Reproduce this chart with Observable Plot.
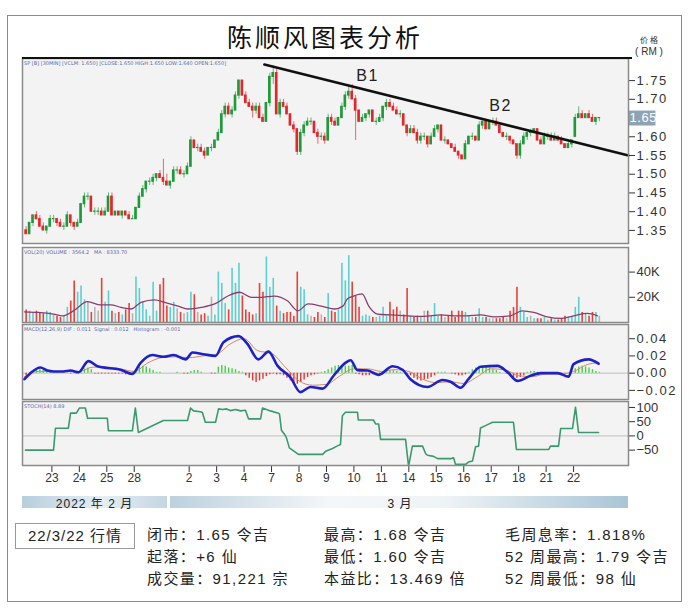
<!DOCTYPE html>
<html><head><meta charset="utf-8">
<script src="https://cdn.jsdelivr.net/npm/d3@7"></script>
<script src="https://cdn.jsdelivr.net/npm/@observablehq/plot@0.6"></script>
<style>
body{margin:0;width:690px;height:611px;position:relative;background:#fff;overflow:hidden;font-family:"Liberation Sans","Noto Sans CJK SC",sans-serif;color:#222}
.abs{position:absolute}
.tiny{position:absolute;font-size:5px;line-height:6px;color:#5a6aa8;white-space:nowrap;font-family:"DejaVu Sans",sans-serif}
.info{position:absolute;font-size:15px;letter-spacing:1.4px;white-space:nowrap;line-height:22px;font-family:"Liberation Sans","Noto Sans CJK SC",sans-serif}
</style></head><body>
<div class="abs" style="left:7px;top:15px;width:673px;height:585px;border:1px solid #8a8a8a"></div>
<div class="abs" style="left:125px;width:400px;top:18px;line-height:36px;text-align:center;font-family:'Noto Sans CJK SC';font-size:25px;letter-spacing:3px;color:#111">陈顺风图表分析</div>
<div class="abs" style="left:634px;top:35px;width:30px;line-height:10px;text-align:center;font-family:'Noto Sans CJK SC';font-size:8px;color:#333">价 格</div>
<div class="abs" style="left:632px;top:46px;width:34px;line-height:11px;text-align:center;font-size:10px;color:#333">( RM )</div>
<div id="price" class="abs" style="left:0;top:58px"></div>
<div id="volume" class="abs" style="left:0;top:247px"></div>
<div id="macd" class="abs" style="left:0;top:324px"></div>
<div id="osc" class="abs" style="left:0;top:401px"></div>
<div class="abs" style="left:22px;top:57px;width:610px;height:2px;background:#111"></div>
<div class="tiny" style="left:24px;top:60px">SP [B] [30MIN] [VCLM: 1.650] [CLOSE:1.650 HIGH:1.650 LOW:1.640 OPEN:1.650]</div>
<div class="tiny" style="left:24px;top:249px">VOL(20) VOLUME : 3564.2 &nbsp; MA : 8333.70</div>
<div class="tiny" style="left:24px;top:326px">MACD(12,26,9) DIF : 0.011 &nbsp;Signal : 0.012 &nbsp; Histogram : -0.001</div>
<div class="tiny" style="left:24px;top:403px">STOCH(14) 8.89</div>
<div class="abs" style="left:22px;top:496px;width:145px;height:12px;background:linear-gradient(90deg,#b7cedd,#e6eef3 55%,#c3d6e2)"></div>
<div class="abs" style="left:170px;top:496px;width:458px;height:12px;background:linear-gradient(90deg,#bcd1de,#f4f7f9 35%,#eef3f6 60%,#a9c5d6)"></div>
<div class="abs" style="left:22px;top:494px;width:145px;text-align:center;font-size:12px;font-family:'Liberation Sans','Noto Sans CJK SC';letter-spacing:1px">2022 年 2 月</div>
<div class="abs" style="left:360px;top:494px;width:80px;text-align:center;font-size:12px;font-family:'Liberation Sans','Noto Sans CJK SC';letter-spacing:1px">3 月</div>
<div class="abs" style="left:15px;top:523px;width:118px;height:24px;border:1px solid #999;text-align:center;font-size:15px;line-height:24px;letter-spacing:1px">22/3/22 行情</div>
<div class="info" style="left:147px;top:524px">闭市：1.65 令吉<br>起落：+6 仙<br>成交量：91,221 宗</div>
<div class="info" style="left:324px;top:524px">最高：1.68 令吉<br>最低：1.60 令吉<br>本益比：13.469 倍</div>
<div class="info" style="left:505px;top:524px">毛周息率：1.818%<br>52 周最高：1.79 令吉<br>52 周最低：98 仙</div>
<script>
// ---- data (prices in sen, 8 bars per trading day, 21 trading days) ----
const tickDays = [1,2,3,4,6,7,8,9,10,11,12,13,14,15,16,17,18,19,20];
const tickLabels = ["23","24","25","28","2","3","4","7","8","9","10","11","14","15","16","17","18","21","22"];
const open = [
135,134,137,139,138,136,135,136, 138,138,137,136,136,139,137,136, 137,142,144,144,140,140,140,139,
140,144,139,140,139,140,139,138, 138,141,144,146,148,148,149,150, 149,148,147,148,151,151,150,150,
152,159,157,157,156,155,157,157, 159,161,166,168,166,167,171,175, 171,169,168,167,168,165,164,169,
176,177,166,169,168,166,163,162, 156,161,163,164,164,161,160,160, 159,165,164,163,165,168,171,172,
170,167,164,165,166,167,164,164, 165,168,169,168,167,166,166,163, 161,162,161,159,160,160,158,160,
162,163,159,159,158,157,156,155, 154,158,160,160,159,163,164,162, 164,164,163,161,160,160,159,158,
155,158,160,161,161,162,159,158, 160,160,159,160,159,158,157,158, 160,165,166,165,166,165,164,165];
const high = [
136,137,139,140,139,137,136,139, 139,138,138,137,140,139,137,138, 142,145,145,144,141,141,141,141,
145,145,140,140,140,140,140,139, 141,145,147,148,149,150,150,151, 154,150,148,152,152,152,151,153,
160,159,158,158,157,157,158,159, 162,167,169,169,168,172,175,175, 172,170,169,169,169,166,169,177,
179,178,170,170,169,166,164,162, 162,164,165,165,164,162,161,161, 166,166,165,165,169,172,174,174,
171,167,166,166,167,167,165,166, 168,170,170,169,168,167,166,163, 163,163,162,161,161,160,161,163,
163,163,160,159,158,158,156,155, 159,160,161,160,164,164,164,164, 165,165,163,161,161,160,159,158,
159,161,161,162,162,162,160,161, 161,161,161,160,160,158,159,159, 166,168,167,166,167,166,165,165];
const low = [
134,134,136,138,136,135,134,136, 137,136,136,135,136,136,135,136, 137,141,143,140,139,139,139,139,
140,139,139,139,138,139,138,138, 138,141,144,145,147,147,148,149, 147,147,146,148,150,150,149,150,
152,157,156,156,154,155,156,157, 159,161,165,166,165,167,170,171, 169,168,165,166,165,164,164,168,
174,166,165,168,166,163,161,155, 155,160,163,163,161,158,159,158, 159,163,163,163,165,167,170,170,
159,164,164,164,165,164,163,164, 164,167,168,167,166,165,163,160, 161,161,158,158,159,157,158,160,
161,159,158,158,157,156,154,154, 154,158,159,159,159,162,162,162, 163,163,161,160,159,158,158,154,
154,158,159,160,161,159,158,158, 159,159,159,159,158,157,157,157, 160,165,165,165,165,164,163,164];
const close = [
134,137,139,138,136,135,136,138, 138,137,136,136,139,137,136,137, 142,144,144,140,140,140,139,140,
144,139,140,139,140,139,138,138, 141,144,146,148,148,149,150,149, 148,147,148,151,151,150,150,152,
159,157,157,156,155,157,157,159, 161,166,168,166,167,171,175,171, 169,168,167,168,165,164,169,176,
177,166,169,168,166,163,162,156, 161,163,164,164,161,160,160,159, 165,164,163,165,168,171,172,170,
167,164,165,166,167,164,164,165, 168,169,168,167,166,166,163,161, 162,161,159,160,160,158,160,162,
163,159,159,158,157,156,155,154, 158,160,160,159,163,164,162,164, 164,163,161,160,160,159,158,155,
158,160,161,161,162,159,158,160, 160,159,160,159,158,157,158,159, 165,166,165,166,165,164,165,165];
const volumeK = [
10,9,8,9,8,7,9,8, 6,5,4,5,12,17,33,24, 29,18,16,8,12,9,35,16,
25,9,7,8,6,10,15,7, 36,27,16,10,5,32,9,30, 35,13,12,16,11,8,7,8,
24,22,8,6,7,5,20,6, 40,31,15,10,43,31,47,21, 10,8,6,7,31,24,52,28,
35,13,9,7,8,8,5,40, 28,26,6,5,4,8,6,4, 23,9,8,10,47,33,53,32,
21,12,5,6,5,4,4,5, 12,5,16,10,12,9,6,27, 5,4,5,4,9,9,5,15,
5,6,4,5,9,4,9,9, 8,5,4,4,11,4,4,3, 3,3,3,4,3,9,12,28,
12,8,4,5,3,3,3,4, 2,3,2,2,3,5,4,5, 12,20,8,7,5,8,8,5];
const histMilli = [
-3,-2,2,4,4,3,2,1, 1,1,0,1,0,-1,0,1, 3,5,6,4,-1,-1,-1,-1,
-1,-1,-1,-1,-1,-2,-2,-2, 4,7,8,7,5,3,1,1, 0,0,0,0,1,0,-1,-1,
2,3,3,1,0,0,-1,-1, 7,9,8,6,5,4,2,1, -3,-6,-9,-11,-9,-7,-4,-2,
-1,-2,-2,-3,-6,-9,-12,-13, -11,-8,-5,-3,-2,-1,1,2, 4,6,8,9,9,8,8,9,
-1,-2,-3,-3,-3,-2,-2,-1, 1,2,3,3,2,1,0,-1, -3,-6,-8,-9,-8,-7,-5,-3,
1,1,1,0,-1,-2,-3,-3, -2,1,4,6,8,8,7,6, 4,3,1,0,-1,-3,-5,-6,
-5,-3,1,2,2,1,0,0, 0,0,0,-1,-1,-1,0,0, 5,7,8,7,6,4,2,1];
// volume moving average (K) read along the time axis (trading-day units)
const maPos = [0,0.5,1.06,1.4,1.77,2.3,2.78,3.15,3.52,3.88,4.25,4.74,5.1,5.6,5.95,6.44,6.93,7.41,7.84,8.26,8.62,9.1,9.59,9.96,10.33,10.81,11.3,11.6,11.76,11.99,12.3,12.54,12.85,13.34,13.95,14.55,15.16,15.65,16.1,16.62,17.1,17.7,18.13,18.55,19.04,19.53,20.01,20.5,20.87];
const maVal = [8.5,8,6.7,5.3,9,16.5,14,14,12,10.7,16,18,16,13,10.7,12,14.7,21,24,20,20,21,17,9.3,14.7,13,10.7,13,18.7,21,22.7,13,6.7,6,5.3,4.8,6,5.3,5.3,6,4.5,5.3,9.3,8,4.5,3.2,5.3,7.2,5.3];
// MACD (DIF) line
const macdPos = [0,0.22,0.58,0.84,1.06,1.42,1.68,1.97,2.33,2.66,3.02,3.5,3.93,4.23,4.66,5.06,5.43,5.87,6.12,6.52,6.96,7.25,7.8,8.12,8.52,8.89,9.22,9.69,10.05,10.42,10.86,11.26,11.69,11.88,12.13,12.5,12.9,13.41,13.77,14.06,14.68,15.23,15.52,15.88,16.17,16.61,17.23,17.6,17.96,18.43,18.8,19.42,19.82,20.0,20.55,20.91];
const macdVal = [-0.007,0,0.0065,0.003,0.002,0.002,0.003,0.001,0.014,0.008,0.006,0.004,-0.001,0.012,0.021,0.019,0.021,0.016,0.024,0.022,0.020,0.036,0.043,0.034,0.016,0.025,0.0085,-0.005,-0.022,-0.016,-0.018,-0.003,0.012,0.015,0.0035,0.003,-0.002,0.008,0.004,-0.007,-0.016,-0.008,-0.010,-0.017,-0.007,0.0075,0.0085,0.001,-0.009,-0.003,0,0,-0.004,0.0105,0.016,0.011];
// signal line
const sigPos = [0,0.5,1,1.5,2,2.5,3,3.5,4,4.5,5,5.5,6,6.5,7,7.5,8,8.5,9,9.5,10,10.5,11,11.5,12,12.5,13,13.5,14,14.5,15,15.5,16,16.5,17,17.5,18,18.5,19,19.5,20,20.5,20.9];
const sigVal = [-0.004,0.002,0.002,0.002,0.002,0.007,0.007,0.005,0.002,0.012,0.018,0.019,0.018,0.020,0.022,0.034,0.040,0.026,0.023,0.007,-0.009,-0.014,-0.013,-0.003,0.005,0.005,0.002,0.004,0.002,-0.007,-0.011,-0.010,-0.012,-0.004,0.005,0.004,-0.003,-0.004,-0.001,-0.001,0.002,0.010,0.012];
// lower oscillator
const oscPos = [0.04,1.06,1.13,1.6,1.68,1.89,2.0,2.22,2.3,3.02,3.06,3.93,4.04,4.15,5.06,5.94,6.05,6.16,6.41,6.48,6.59,6.96,7.07,7.21,7.36,7.5,7.69,7.87,8.05,8.16,8.6,8.67,8.96,9.25,9.29,9.36,9.47,9.54,9.65,9.98,10.86,10.97,11.22,11.4,11.51,11.58,11.69,12.13,12.16,12.71,12.79,12.9,12.97,13.88,13.99,14.13,14.5,14.61,14.68,14.9,15.05,15.52,15.63,15.7,16.07,16.17,16.32,16.43,16.54,16.61,16.83,17.05,17.81,17.92,19.09,19.16,19.45,19.53,19.96,20.07,20.18,20.91];
const oscVal = [-50,-50,27,27,80,80,98,98,62,62,18,18,98,12,54,54,98,88,85,82,48,48,95,93,95,89,93,88,90,60,60,98,88,80,77,20,6,-6,-42,-65,-65,-54,-44,-35,-30,71,83,83,56,56,42,42,-12,-12,-107,-36,-36,-62,-68,-72,-80,-80,-77,-100,-100,-92,-88,-38,-36,28,38,48,48,-48,-48,-36,-36,26,26,101,12,12];
// resistance line and labels
const trendPos = [8.74, 22];
const trendVal = [1.793, 1.55];
const notes = ["B1","B2"];
const notePos = [12.5, 17.34];
const noteVal = [1.763, 1.683];
const priceTicks = [1.35,1.40,1.45,1.50,1.55,1.60,1.70,1.75];

// ---- build ----
const bars = close.map((c, i) => ({
  p: Math.floor(i / 8) + ((i % 8) + 0.5) / 8,
  o: open[i] / 100, h: high[i] / 100, l: low[i] / 100, c: c / 100,
  v: volumeK[i], hist: histMilli[i] / 1000,
  dir: c > open[i] ? "up" : c < open[i] ? "down" : "flat"
}));
const zip = (a, b) => a.map((x, i) => ({x, y: b[i]}));
const W = 690, ML = 22, MR = 62;
const xopt = {domain: [-0.07, 22], axis: null};
const GREEN = "#1f9a3a", RED = "#e3262b";
const candleColor = d => d.dir === "down" ? RED : GREEN;
const baseStyle = {fontFamily: "Liberation Sans, Arial, sans-serif", fontSize: "13px", color: "#333", overflow: "visible", background: "transparent"};
const bg = Plot.frame({fill: "#f3f3f3", stroke: null});
const border = Plot.frame({stroke: "#8a8a8a", strokeWidth: 1.5});
const last = bars[bars.length - 1];

const price = Plot.plot({
  width: W, height: 185, marginLeft: ML, marginRight: MR, marginTop: 0, marginBottom: 0,
  style: {...baseStyle, letterSpacing: "1.5px"},
  x: xopt,
  y: {domain: [1.315, 1.809], axis: "right", ticks: priceTicks, tickFormat: ".2f", tickSize: 6, tickPadding: 2, label: null},
  marks: [
    bg,
    Plot.ruleX(bars, {x: "p", y1: "l", y2: "h", stroke: candleColor, strokeWidth: 0.9, strokeOpacity: 0.75}),
    Plot.rect(bars, {x1: d => d.p - 0.048, x2: d => d.p + 0.048, y1: "o", y2: "c", fill: candleColor, insetTop: -0.6, insetBottom: -0.6}),
    Plot.line(zip(trendPos, trendVal), {x: "x", y: "y", stroke: "#111", strokeWidth: 2.6}),
    Plot.text(notes, {x: (d, i) => notePos[i], y: (d, i) => noteVal[i], text: d => d, fontSize: 16, fill: "#222"}),
    Plot.ruleY([last], {y: "c", x1: 22, x2: 23.0, stroke: "#8fa4b3", strokeWidth: 15}),
    Plot.text([last], {y: "c", x: 22, dx: 1, text: d => d.c.toFixed(2), textAnchor: "start", fill: "#fff", fontSize: 13}),
    border
  ]
});
document.getElementById("price").append(price);
d3.select(price).selectAll('text').filter(function() { return this.textContent === "1.65"; }).style("letter-spacing", "0.6px");

const volume = Plot.plot({
  width: W, height: 75, marginLeft: ML, marginRight: MR, marginTop: 0, marginBottom: 0,
  style: baseStyle,
  x: xopt,
  y: {domain: [0, 59.5], axis: "right", ticks: [20, 40], tickFormat: d => d + "K", tickSize: 6, tickPadding: 2, label: null},
  marks: [
    bg,
    Plot.ruleX(bars, {x: "p", y1: 0, y2: "v", stroke: d => d.dir === "down" ? "#e8403a" : d.dir === "up" ? "#5ccfd0" : "#b5b5b5", strokeWidth: 1.6}),
    Plot.line(zip(maPos, maVal), {x: "x", y: "y", stroke: "#8a3d6c", strokeWidth: 1.3, curve: "monotone-x"}),
    border
  ]
});
document.getElementById("volume").append(volume);

const macd = Plot.plot({
  width: W, height: 75, marginLeft: ML, marginRight: MR, marginTop: 0, marginBottom: 0,
  style: {...baseStyle, letterSpacing: "1.5px"},
  x: xopt,
  y: {domain: [-0.0306, 0.0565], axis: "right", ticks: [-0.02, 0, 0.02, 0.04], tickFormat: ".2f", tickSize: 6, tickPadding: 2, label: null},
  marks: [
    bg,
    Plot.ruleY([0], {stroke: "#b0b0b0", strokeWidth: 0.8}),
    Plot.ruleX(bars, {x: "p", y1: 0, y2: "hist", stroke: d => d.hist >= 0 ? "#43cf45" : "#e8342f", strokeWidth: 1.4}),
    Plot.line(zip(sigPos, sigVal), {x: "x", y: "y", stroke: "#d08a62", strokeWidth: 1, curve: "monotone-x"}),
    Plot.line(zip(macdPos, macdVal), {x: "x", y: "y", stroke: "#1c22c8", strokeWidth: 2.6, curve: "monotone-x"}),
    border
  ]
});
document.getElementById("macd").append(macd);

const osc = Plot.plot({
  width: W, height: 89, marginLeft: ML, marginRight: MR, marginTop: 0, marginBottom: 25,
  style: {...baseStyle, fontSize: "12px"},
  x: {domain: [-0.07, 22], axis: "bottom", ticks: tickDays, tickFormat: d => tickLabels[tickDays.indexOf(d)], tickSize: 7, tickPadding: 1, label: null},
  y: {domain: [-104, 121], axis: "right", ticks: [-50, 0, 50, 100], tickSize: 6, tickPadding: 2, label: null},
  marks: [
    bg,
    Plot.ruleY([0], {stroke: "#b0b0b0", strokeWidth: 0.8}),
    Plot.line(zip(oscPos, oscVal), {x: "x", y: "y", stroke: "#3a9a6e", strokeWidth: 1.6, clip: true}),
    border
  ]
});
document.getElementById("osc").append(osc);
d3.select(osc).selectAll('[aria-label="y-axis tick label"]').attr("font-size", 13);
</script>
</body></html>
